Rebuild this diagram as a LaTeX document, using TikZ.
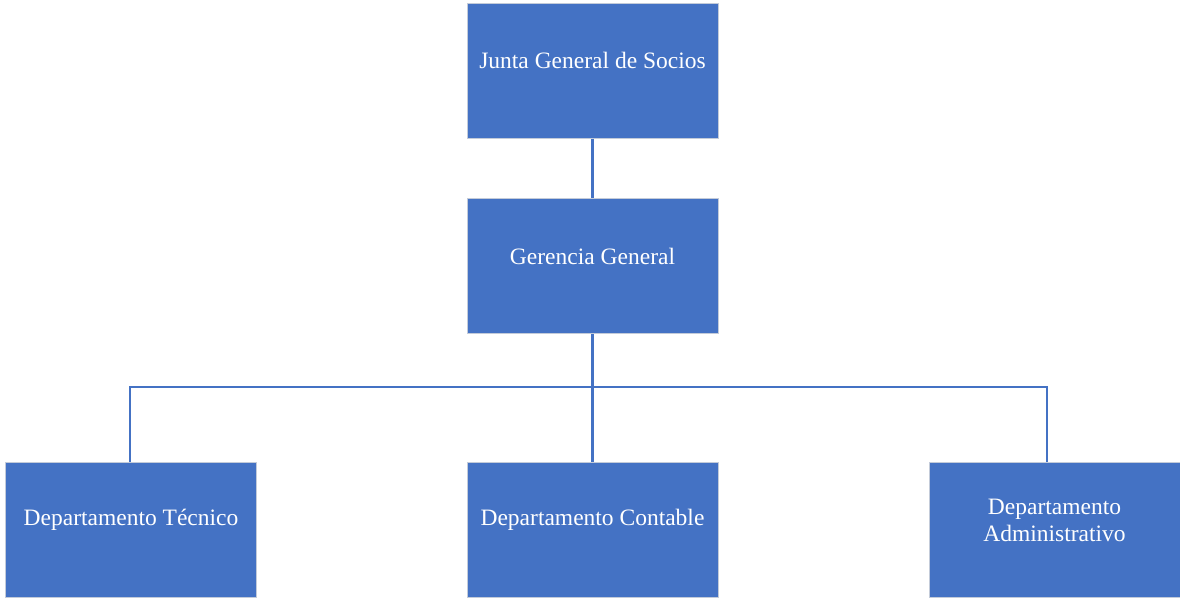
\documentclass[tikz,border=0pt]{standalone}
\usepackage{fontspec}
\setmainfont{Liberation Serif}
\definecolor{boxblue}{HTML}{4472C4}
\definecolor{boxedge}{HTML}{C3CBD9}
\begin{document}
\begin{tikzpicture}[x=1pt,y=-1pt,
  unit/.style={rectangle,draw=boxedge,line width=1pt,fill=boxblue,
    minimum width=251pt,minimum height=135pt,inner sep=0pt,
    label={[caption]center:#1}},
  caption/.style={text=white,font=\fontsize{23.5}{27}\selectfont,
    align=center,yshift=10pt},
  link/.style={draw=boxblue,line width=2.2pt}]
\useasboundingbox (0,0) rectangle (1180,600);
\node[unit={Junta General de Socios}] (junta) at (592.5,70.5) {};
\node[unit={Gerencia General}] (gerencia) at (592.5,266) {};
\node[unit={Departamento Técnico}] (tecnico) at (131,530) {};
\node[unit={Departamento Contable}] (contable) at (592.5,530) {};
\node[unit={Departamento\\Administrativo}] (admin) at (1054.5,530) {};
\coordinate (bar) at (592.5,387);
\draw[link] (junta.south) -- (gerencia.north);
\draw[link] (gerencia.south) -- (bar);
\draw[link] (tecnico.north -| 130,0) |- (bar) -| (admin.north -| 1047,0);
\draw[link] (bar) -- (contable.north);
\end{tikzpicture}
\end{document}
